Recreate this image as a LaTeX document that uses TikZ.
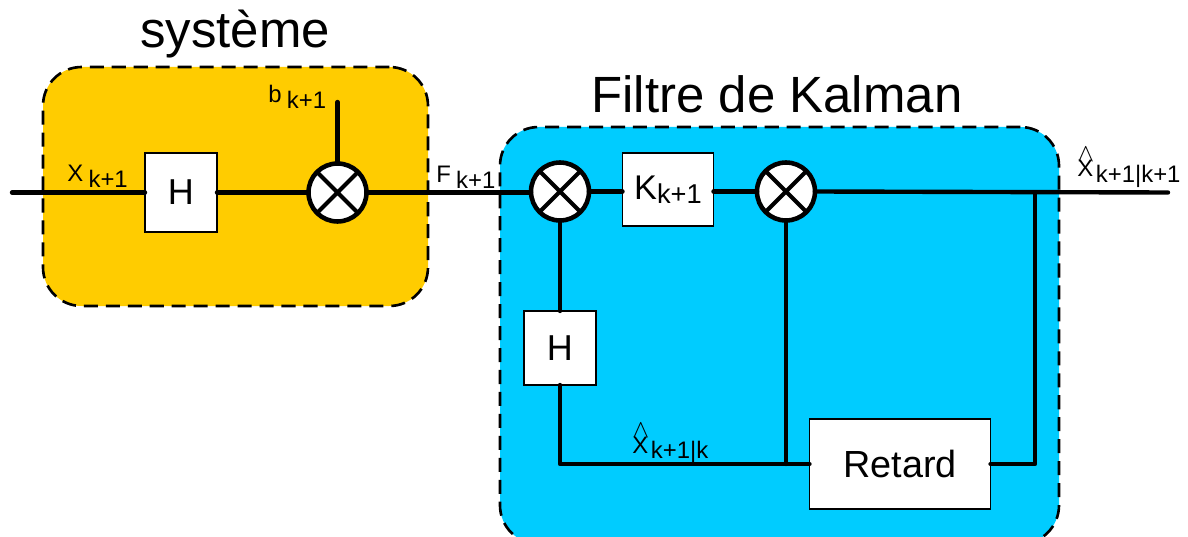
\documentclass[tikz,border=0pt]{standalone}
\usepackage{fontspec}
\setmainfont{Liberation Sans}
\definecolor{sysyellow}{HTML}{FFCC00}
\definecolor{kalblue}{HTML}{00CCFF}
\newcommand{\lblsub}[2]{#1\hspace{3pt}\raisebox{-3.4pt}{#2}}
\newcommand{\hatsub}[1]{\rlap{\raisebox{9pt}{$\wedge$}}X\hspace{1.5pt}\raisebox{-3.2pt}{#1}}

\begin{document}
\begin{tikzpicture}[
  x=0.02cm, y=-0.02cm,
  zone/.style={draw=black, line width=1.5pt, dash pattern=on 8pt off 4.5pt, rounded corners=22pt, inner sep=0pt, outer sep=0pt},
  block/.style={draw=black, line width=0.6pt, fill=white, align=center, inner sep=0pt, outer sep=0pt},
  mult/.style={circle, draw=black, line width=2.6pt, fill=white, minimum size=33pt, inner sep=0pt, outer sep=0pt,
    path picture={\draw[line width=2.4pt] (path picture bounding box.north west) -- (path picture bounding box.south east)
      (path picture bounding box.north east) -- (path picture bounding box.south west);}},
  wire/.style={line width=2.5pt, line cap=round, line join=round},
  lbl/.style={font=\fontsize{13.6}{15}\selectfont, inner sep=0pt, anchor=base west},
  titre/.style={font=\fontsize{29}{32}\selectfont, inner sep=0pt, anchor=base}
]
  \useasboundingbox (0,0) rectangle (1188,537);
  \clip (0,0) rectangle (1188,537);

  \node[zone, fill=sysyellow, minimum width=385*0.02cm, minimum height=239*0.02cm] (systeme) at (235.5,186.5) {};
  \node[zone, fill=kalblue, minimum width=559*0.02cm, minimum height=417*0.02cm] (filtre) at (779.5,335.5) {};

  \node[titre] (titresys) at (235,48) {système};
  \node[titre] (titrekal) at (777,113) {Filtre de Kalman};

  \node[block, minimum width=72*0.02cm, minimum height=79*0.02cm, font=\fontsize{20.5}{22}\selectfont] (hsys) at (181,192.5) {H};
  \node[mult] (mulsys) at (337.5,192.5) {};
  \node[mult] (mulerr) at (560,191.5) {};
  \node[block, minimum width=91*0.02cm, minimum height=73*0.02cm, font=\fontsize{19.5}{22}\selectfont] (gain) at (668,189.5) {K\raisebox{-2.5pt}{\fontsize{15.5}{17}\selectfont k+1}};
  \node[mult] (mulcor) at (786,191.5) {};
  \node[block, minimum width=72*0.02cm, minimum height=74*0.02cm, font=\fontsize{20.5}{22}\selectfont] (hkal) at (560,348) {H};
  \node[block, minimum width=181*0.02cm, minimum height=90*0.02cm, font=\fontsize{21.5}{24}\selectfont] (retard) at (900,464) {Retard};

  \coordinate (entree) at (12,192.5);
  \coordinate (bruit) at (337.5,102);
  \coordinate (sortie) at (1168,192.5);
  \coordinate (prise) at (1035,192.5);

  \draw[wire] (entree) -- (hsys.west);
  \draw[wire] (hsys.east) -- (mulsys.west);
  \draw[wire] (bruit) -- (mulsys.north);
  \draw[wire] (mulsys.east) -- (mulsys.east -| mulerr.west);
  \draw[wire] (mulerr.east) -- (mulerr.east -| gain.west);
  \draw[wire] (gain.east |- mulcor.west) -- (mulcor.west);
  \draw[wire] (mulcor.east) -- (sortie);
  \draw[wire] (mulerr.south) -- (hkal.north);
  \draw[wire] (hkal.south) |- (retard.west);
  \draw[wire] (mulcor.south) -- (mulcor.south |- retard.west);
  \draw[wire] (retard.east) -| (prise);

  \node[lbl] (labx) at (67,182) {\lblsub{X}{k+1}};
  \node[lbl] (labb) at (268,103) {\lblsub{b}{k+1}};
  \node[lbl] (labf) at (436,183) {\lblsub{F}{k+1}};
  \node[lbl] (labpred) at (632,453) {\hatsub{k+1|k}};
  \node[lbl] (labest) at (1077,177) {\hatsub{k+1|k+1}};
\end{tikzpicture}
\end{document}
